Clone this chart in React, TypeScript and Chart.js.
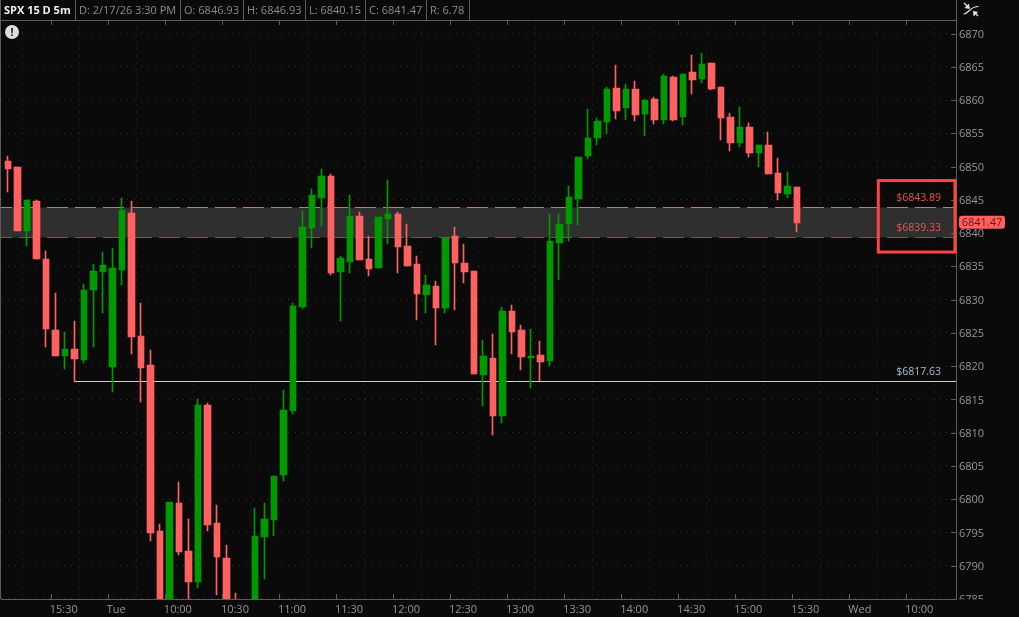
import React, { useEffect, useRef } from "react";
import { Chart, registerables } from "chart.js";

Chart.register(...registerables);

// Candle data, left to right (5-minute SPX bars). Bars below the visible range are estimates.
const opens = [6850.84,6849.94,6840.36,6844.82,6836.10,6825.42,6821.51,6822.57,6820.91,6831.44,6834.15,6819.86,6834.45,6843.02,6824.52,6820.16,6795.20,6781.00,6799.41,6792.19,6787.53,6814.15,6796.40,6791.14,6784.00,6781.00,6782.00,6794.30,6796.85,6803.62,6813.24,6828.88,6840.76,6845.27,6848.58,6834.15,6835.65,6842.57,6836.10,6834.75,6842.12,6842.87,6838.06,6835.35,6830.69,6832.04,6828.73,6839.56,6835.50,6834.30,6818.66,6821.21,6812.49,6828.28,6825.42,6821.21,6821.66,6820.76,6838.51,6841.36,6845.12,6851.59,6854.30,6856.70,6861.82,6858.81,6861.67,6857.91,6860.16,6857.00,6863.47,6857.46,6864.22,6863.17,6865.58,6861.97,6857.46,6853.55,6855.95,6852.04,6853.24,6849.03,6845.88,6846.93];
const highs = [6851.59,6849.94,6844.97,6844.97,6837.30,6830.99,6825.12,6826.78,6832.34,6835.35,6837.15,6837.76,6845.27,6844.82,6829.48,6822.42,6796.25,6799.56,6802.57,6797.00,6815.05,6814.45,6799.11,6793.09,6785.87,6784.60,6798.66,6799.41,6803.47,6816.40,6829.48,6843.32,6846.63,6849.64,6848.88,6836.55,6845.73,6843.17,6839.56,6842.42,6847.98,6843.17,6841.36,6836.55,6833.70,6832.79,6839.26,6840.91,6838.36,6834.30,6823.92,6824.82,6828.88,6829.18,6826.18,6825.57,6823.77,6842.87,6842.87,6847.08,6851.44,6858.66,6857.31,6861.97,6865.28,6862.42,6862.87,6860.16,6860.46,6863.92,6863.62,6863.92,6866.78,6867.08,6865.58,6861.97,6858.06,6858.96,6856.55,6853.24,6855.20,6851.29,6849.18,6846.93];
const lows = [6846.18,6840.36,6838.10,6836.10,6822.87,6821.51,6819.56,6817.63,6820.46,6822.87,6827.98,6816.10,6832.19,6821.82,6814.60,6793.70,6778.00,6780.00,6791.59,6783.00,6786.63,6795.20,6785.57,6781.00,6779.00,6777.00,6781.00,6787.98,6794.45,6802.72,6812.79,6828.58,6837.76,6841.06,6833.70,6826.78,6834.00,6835.95,6833.55,6834.75,6838.36,6834.00,6835.05,6826.93,6827.98,6823.17,6827.98,6828.43,6832.49,6818.81,6814.00,6809.63,6811.44,6821.82,6819.41,6816.70,6817.75,6820.01,6832.94,6838.81,6841.21,6851.14,6853.24,6854.90,6857.15,6857.00,6856.85,6854.60,6856.40,6856.40,6856.85,6856.25,6860.91,6862.57,6861.52,6854.00,6852.34,6852.94,6851.44,6849.94,6848.88,6844.97,6845.27,6840.15];
const closes = [6849.64,6840.36,6844.97,6836.10,6825.57,6821.51,6822.57,6821.06,6831.44,6834.30,6835.20,6834.75,6843.47,6824.37,6819.71,6794.90,6780.00,6799.56,6792.04,6787.53,6814.15,6796.10,6791.29,6782.00,6781.00,6783.00,6794.45,6797.00,6803.47,6813.39,6829.03,6840.91,6845.73,6848.58,6834.00,6836.25,6842.57,6835.95,6834.60,6842.42,6842.87,6837.91,6835.05,6830.84,6832.19,6828.73,6839.26,6835.50,6834.15,6818.81,6821.51,6812.49,6828.28,6825.12,6821.36,6821.51,6820.61,6838.81,6841.36,6845.43,6851.44,6854.30,6856.85,6861.67,6858.36,6861.67,6857.76,6860.01,6857.00,6863.62,6857.00,6863.92,6863.02,6865.43,6861.67,6857.31,6853.55,6855.95,6852.04,6853.24,6848.88,6846.03,6847.08,6841.47];

// 16 time-axis ticks, one every six bars, sitting half a bar left of the bar they label.
const timeLabels = ["15:30","Tue","10:00","10:30","11:00","11:30","12:00","12:30","13:00","13:30","14:00","14:30","15:00","15:30","Wed","10:00"];
const firstTimeTick = 4.5;
const barsPerTick = 6;
const priceTicks = [6785,6790,6795,6800,6805,6810,6815,6820,6825,6830,6835,6840,6845,6850,6855,6860,6865,6870];

const zoneHigh = 6843.89;
const zoneLow = 6839.33;
const supportLevel = 6817.63;
const supportStartBar = 7;
const lastPrice = 6841.47;
// Red highlight box around the zone labels, in bar index / price terms.
const boxBars = [91.55, 99.62];
const boxPrices = [6847.9, 6837.15];

const headerCells = [
  { text: "SPX 15 D 5m", start: 4, end: 75.5, bold: true },
  { text: "D: 2/17/26 3:30 PM", start: 79, end: 180.5 },
  { text: "O: 6846.93", start: 184, end: 243.5 },
  { text: "H: 6846.93", start: 247, end: 305.5 },
  { text: "L: 6840.15", start: 309, end: 365.5 },
  { text: "C: 6841.47", start: 369, end: 426.5 },
  { text: "R: 6.78", start: 430, end: 469.5 },
];

const BG = "#0a0a0a";
const RED = "#ff6060";
const GREEN = "#009900";
const FRAME = "#5c5c5c";
const TEXT = "#959595";
const FONT = '"Open Sans", sans-serif';

const X_MIN = -0.7364;
const X_MAX = 99.725;
const Y_MIN = 6784.98;
const Y_MAX = 6871.97;

const isUp = (i: number) => closes[i] >= opens[i];
const candleColors = opens.map((_, i) => (isUp(i) ? GREEN : RED));

const snapPlugin = {
  id: "snapCandles",
  beforeDatasetsDraw(chart: any) {
    chart.data.datasets.forEach((ds: any, di: number) => {
      const meta = chart.getDatasetMeta(di);
      if (ds.type === "line") {
        meta.data.forEach((el: any) => {
          el.y = Math.floor(el.y) + 0.5;
        });
        return;
      }
      const wick = ds.label === "Range";
      meta.data.forEach((el: any) => {
        const x = el.x;
        if (wick) {
          el.x = Math.floor(x - 0.5) + 0.5;
          el.width = 1;
        } else {
          const l = Math.round(x - 3.25);
          const r = Math.round(x + 3.25);
          el.x = (l + r) / 2;
          el.width = r - l;
        }
        el.y = Math.round(el.y);
        el.base = Math.round(el.base);
      });
    });
  },
};

const overlayPlugin = {
  id: "overlay",
  afterDraw(chart: any) {
    const { ctx, chartArea: a, scales } = chart;
    const xs = scales.x;
    const ys = scales.y;
    const W = chart.width;
    const H = chart.height;
    ctx.save();

    // cut the lowest price label off at the time axis
    ctx.fillStyle = BG;
    ctx.fillRect(a.right + 1, a.bottom + 0.5, W - a.right - 1, H - a.bottom);

    // frame and inward tick marks
    ctx.strokeStyle = FRAME;
    ctx.lineWidth = 1;
    ctx.beginPath();
    ctx.moveTo(0.5, 0);
    ctx.lineTo(0.5, a.bottom);
    ctx.moveTo(0, 20.5);
    ctx.lineTo(a.right, 20.5);
    ctx.moveTo(Math.round(a.right) + 0.5, 0);
    ctx.lineTo(Math.round(a.right) + 0.5, a.bottom);
    priceTicks.forEach((p) => {
      const y = Math.round(ys.getPixelForValue(p)) + 0.5;
      if (y > a.bottom - 1) return;
      ctx.moveTo(a.right - 5, y);
      ctx.lineTo(a.right, y);
    });
    timeLabels.forEach((_, k) => {
      const x = Math.round(xs.getPixelForValue(firstTimeTick + k * barsPerTick)) + 0.5;
      ctx.moveTo(x, a.bottom - 5);
      ctx.lineTo(x, a.bottom);
      ctx.moveTo(x, 21);
      ctx.lineTo(x, 25);
    });
    ctx.stroke();

    // header strip
    ctx.textBaseline = "middle";
    ctx.textAlign = "left";
    headerCells.forEach((c) => {
      ctx.font = `${c.bold ? "700 " : ""}11px ${FONT}`;
      ctx.fillStyle = c.bold ? "#f2f2f2" : "#8c8c8c";
      ctx.fillText(c.text, c.start, 11);
      ctx.strokeStyle = FRAME;
      ctx.beginPath();
      ctx.moveTo(c.end, 0);
      ctx.lineTo(c.end, 20);
      ctx.stroke();
    });

    // level labels
    ctx.font = `10.5px ${FONT}`;
    ctx.textAlign = "right";
    ctx.fillStyle = "#e25555";
    ctx.fillText("$" + zoneHigh.toFixed(2), 941, ys.getPixelForValue(zoneHigh) - 9);
    ctx.fillText("$" + zoneLow.toFixed(2), 941, ys.getPixelForValue(zoneLow) - 9.5);
    ctx.fillStyle = "#a6bacd";
    ctx.fillText("$" + supportLevel.toFixed(2), 941, ys.getPixelForValue(supportLevel) - 9.5);

    // highlight box
    const bx0 = xs.getPixelForValue(boxBars[0]);
    const bx1 = xs.getPixelForValue(boxBars[1]);
    const by0 = ys.getPixelForValue(boxPrices[0]);
    const by1 = ys.getPixelForValue(boxPrices[1]);
    ctx.strokeStyle = "#ff4444";
    ctx.lineWidth = 3;
    ctx.strokeRect(bx0, by0, bx1 - bx0, by1 - by0);

    // last-price tag
    const tagY = ys.getPixelForValue(lastPrice) - 1;
    ctx.fillStyle = RED;
    ctx.beginPath();
    ctx.roundRect(959, tagY - 6.5, 46, 13, 3);
    ctx.fill();
    ctx.fillStyle = "#6e1010";
    ctx.font = `11px ${FONT}`;
    ctx.textAlign = "center";
    ctx.fillText(lastPrice.toFixed(2), 982, tagY + 0.5);

    // alert badge
    ctx.fillStyle = "#dedede";
    ctx.beginPath();
    ctx.arc(12, 32, 7, 0, Math.PI * 2);
    ctx.fill();
    ctx.fillStyle = "#1a1a1a";
    ctx.font = `700 11px ${FONT}`;
    ctx.fillText("!", 12, 32.5);

    // collapse icon
    ctx.strokeStyle = "#e6e6e6";
    ctx.fillStyle = "#e6e6e6";
    ctx.lineWidth = 1.2;
    ctx.beginPath();
    ctx.moveTo(963.5, 14);
    ctx.bezierCurveTo(969, 14, 969, 6.5, 978.5, 6.5);
    ctx.stroke();
    ctx.beginPath();
    ctx.moveTo(964, 3);
    ctx.lineTo(969.5, 8);
    ctx.moveTo(974, 12);
    ctx.lineTo(978, 16);
    ctx.stroke();
    ctx.beginPath();
    ctx.moveTo(969.5, 9);
    ctx.lineTo(964.5, 8);
    ctx.lineTo(969, 3.5);
    ctx.closePath();
    ctx.moveTo(973, 11);
    ctx.lineTo(978, 12);
    ctx.lineTo(973.5, 16.5);
    ctx.closePath();
    ctx.fill();
    ctx.restore();
  },
};

export default function App() {
  const ref = useRef<HTMLCanvasElement>(null);

  useEffect(() => {
    const chart = new Chart(ref.current as HTMLCanvasElement, {
      type: "bar",
      data: {
        datasets: [
          {
            label: "Body",
            order: 1,
            data: opens.map((o, i) => ({ x: i, y: [o, closes[i]] })),
            backgroundColor: candleColors,
            barThickness: 7,
            grouped: false,
            borderWidth: 0,
          },
          {
            label: "Range",
            order: 2,
            data: lows.map((l, i) => ({ x: i, y: [l, highs[i]] })),
            backgroundColor: candleColors,
            barThickness: 1,
            grouped: false,
            borderWidth: 0,
          },
          {
            type: "line",
            label: "Support",
            order: 3,
            data: [{ x: supportStartBar, y: supportLevel }, { x: X_MAX, y: supportLevel }],
            borderColor: "#d0d0d0",
            borderWidth: 1,
            pointRadius: 0,
          },
          {
            type: "line",
            label: "Zone high",
            order: 4,
            data: [{ x: X_MIN, y: zoneHigh }, { x: X_MAX, y: zoneHigh }],
            borderColor: RED,
            borderWidth: 1,
            borderDash: [21, 7],
            borderDashOffset: 10,
            pointRadius: 0,
            fill: "+1",
            backgroundColor: "#2f2f2f",
          },
          {
            type: "line",
            label: "Zone low",
            order: 5,
            data: [{ x: X_MIN, y: zoneLow }, { x: X_MAX, y: zoneLow }],
            borderColor: RED,
            borderWidth: 1,
            borderDash: [21, 7],
            borderDashOffset: 10,
            pointRadius: 0,
          },
        ] as any,
      },
      options: {
        responsive: false,
        animation: false,
        devicePixelRatio: 1,
        events: [],
        layout: { padding: { left: 1, top: 20.5, right: 0, bottom: 0 } },
        plugins: { legend: { display: false }, tooltip: { enabled: false }, title: { display: false } },
        scales: {
          x: {
            type: "linear",
            offset: false,
            min: X_MIN,
            max: X_MAX,
            afterBuildTicks: (s: any) => {
              s.ticks = timeLabels.map((_, k) => ({ value: firstTimeTick + k * barsPerTick }));
            },
            afterFit: (s: any) => {
              s.height = 18;
            },
            grid: { color: "#333333", lineWidth: 1, drawTicks: false },
            border: { color: FRAME, width: 1, dash: [1, 6] },
            ticks: {
              autoSkip: false,
              maxRotation: 0,
              align: "start",
              padding: 4,
              labelOffset: -1,
              color: TEXT,
              font: { family: FONT, size: 11 },
              callback: (v: any) => timeLabels[Math.round((Number(v) - firstTimeTick) / barsPerTick)],
            },
          },
          y: {
            type: "linear",
            position: "right",
            min: Y_MIN,
            max: Y_MAX,
            afterBuildTicks: (s: any) => {
              s.ticks = priceTicks.map((value) => ({ value }));
            },
            afterFit: (s: any) => {
              s.width = 63;
            },
            grid: { color: "#333333", lineWidth: 1, drawTicks: false },
            border: { color: FRAME, width: 1, dash: [1, 6] },
            ticks: {
              padding: 3,
              labelOffset: 1,
              color: TEXT,
              font: { family: FONT, size: 11 },
              callback: (v: any) => String(v),
            },
          },
        },
      } as any,
      plugins: [
        {
          id: "background",
          beforeDraw(c: any) {
            c.ctx.save();
            c.ctx.fillStyle = BG;
            c.ctx.fillRect(0, 0, c.width, c.height);
            c.ctx.restore();
          },
        },
        snapPlugin,
        overlayPlugin,
      ],
    });
    return () => chart.destroy();
  }, []);

  return (
    <div style={{ position: "absolute", left: 0, top: 0, width: 1019, height: 617, background: BG }}>
      <canvas ref={ref} width={1019} height={617} style={{ display: "block" }} />
    </div>
  );
}
